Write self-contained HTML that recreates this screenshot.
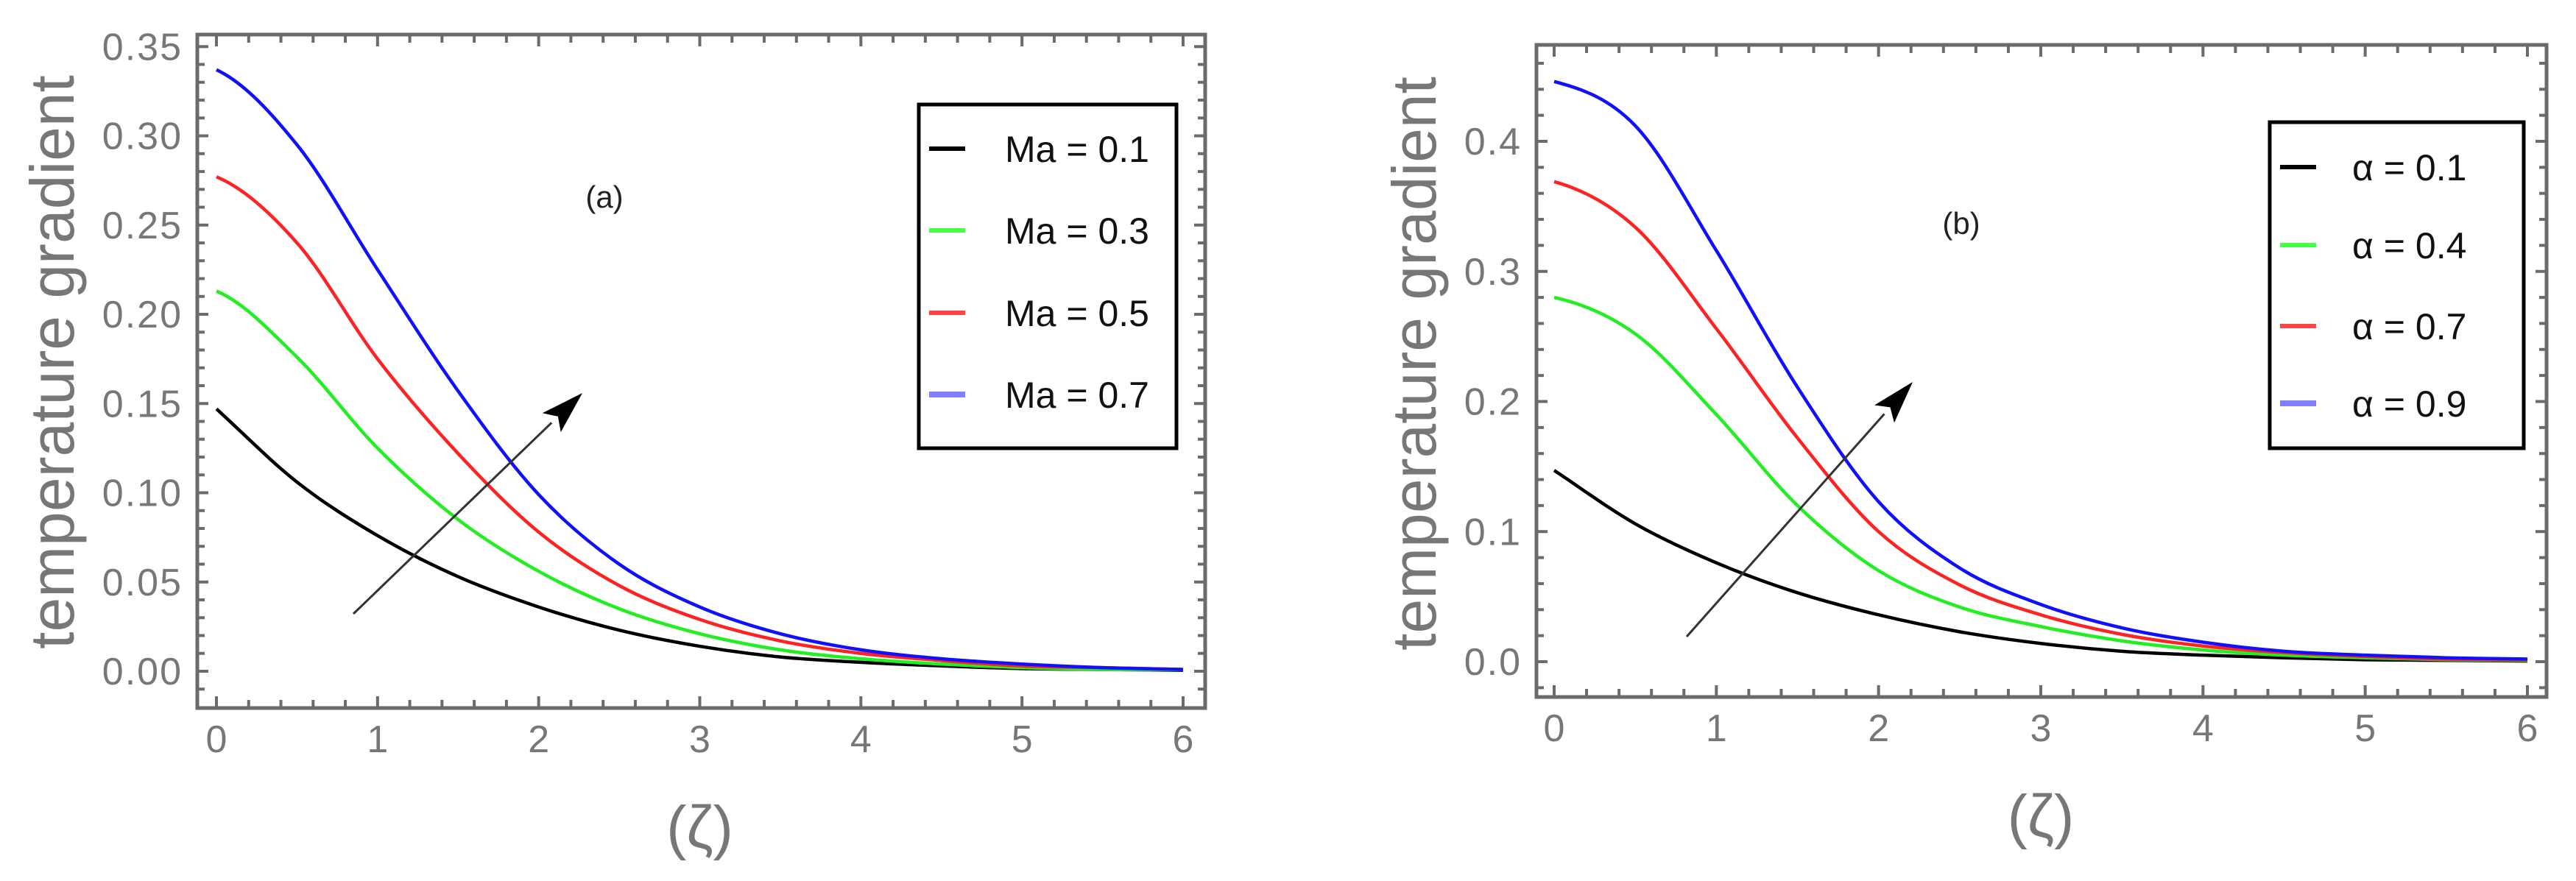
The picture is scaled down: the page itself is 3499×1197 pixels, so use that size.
<!DOCTYPE html>
<html><head><meta charset="utf-8"><style>
body{margin:0;background:#fff;}
svg{display:block;}
text{font-family:"Liberation Sans",sans-serif;}
</style></head><body>
<svg id="fig" width="3499" height="1197" viewBox="0 0 3499 1197" xmlns="http://www.w3.org/2000/svg"></svg>
<script>
// shared x samples
const xs = [0,0.5,1,1.5,2,2.5,3,3.5,4,4.5,5,5.5,6];
// panel (a): Ma
const maLabels = ["Ma = 0.1","Ma = 0.3","Ma = 0.5","Ma = 0.7"];
const maBlack = [0.147,0.106,0.076,0.053,0.036,0.023,0.014,0.008,0.005,0.003,0.0015,0.001,0.0005];
const maGreen = [0.213,0.176,0.125,0.085,0.056,0.035,0.021,0.012,0.007,0.004,0.002,0.001,0.0008];
const maRed   = [0.277,0.240,0.175,0.122,0.078,0.048,0.029,0.017,0.010,0.006,0.003,0.002,0.001];
const maBlue  = [0.337,0.295,0.225,0.157,0.099,0.060,0.036,0.021,0.012,0.007,0.004,0.002,0.001];
const aTicksY = [0,0.05,0.10,0.15,0.20,0.25,0.30,0.35];
const aTickLabelsY = ["0.00","0.05","0.10","0.15","0.20","0.25","0.30","0.35"];
// panel (b): alpha
const alLabels = ["α = 0.1","α = 0.4","α = 0.7","α = 0.9"];
const alBlack = [0.147,0.106,0.076,0.053,0.036,0.023,0.014,0.008,0.005,0.003,0.0015,0.001,0.0005];
const alGreen = [0.280,0.252,0.190,0.120,0.070,0.042,0.027,0.016,0.009,0.005,0.003,0.0015,0.001];
const alRed   = [0.369,0.334,0.256,0.172,0.100,0.059,0.036,0.021,0.012,0.007,0.004,0.002,0.0015];
const alBlue  = [0.446,0.412,0.316,0.211,0.123,0.072,0.044,0.026,0.015,0.008,0.005,0.003,0.002];
const bTicksY = [0,0.1,0.2,0.3,0.4];
const bTickLabelsY = ["0.0","0.1","0.2","0.3","0.4"];
const xTicks = [0,1,2,3,4,5,6];
const xTickLabels = ["0","1","2","3","4","5","6"];
const colors = ["#000000","#22ee22","#ff2222","#1010ff"];
const legColors = ["#000000","#44ff44","#ff4444","#8080ff"];

const NS="http://www.w3.org/2000/svg";
const svg=document.getElementById('fig');
function mk(tag,attrs,parent){const e=document.createElementNS(NS,tag);for(const k in attrs)e.setAttribute(k,attrs[k]);(parent||svg).appendChild(e);return e;}

function panel(cfg){
  const g=mk('g',{});
  
  
  const sx=v=>cfg.x0+(cfg.x6-cfg.x0)*v/6;
  const sy=v=>cfg.y0-(cfg.y0-cfg.yTop)*v/cfg.yTopVal;
  const gray="#6b6b6b";
  const fr=mk('rect',{x:cfg.fl,y:cfg.ft,width:cfg.fr-cfg.fl,height:cfg.fb-cfg.ft,fill:'none',stroke:gray,'stroke-width':5},g);
  
  
  for(let i=0;i<=30;i++){const v=i*0.2;const X=sx(v);const major=(i%5===0);const L=major?16:11;
    mk('line',{x1:X,x2:X,y1:cfg.fb,y2:cfg.fb-L,stroke:gray,'stroke-width':4},g);
    mk('line',{x1:X,x2:X,y1:cfg.ft,y2:cfg.ft+L,stroke:gray,'stroke-width':4},g);}
  const minorStep=cfg.yMinor;
  const nMinor=Math.round((cfg.yMaxTick)/minorStep);
  for(let i=-Math.round(cfg.yBelow/minorStep);i<=nMinor;i++){const v=i*minorStep;const Y=sy(v);
    if(Y<cfg.ft+4||Y>cfg.fb-4)continue;
    const major=(i%cfg.majorEvery===0);const L=major?15:10;
    mk('line',{x1:cfg.fl,x2:cfg.fl+L,y1:Y,y2:Y,stroke:gray,'stroke-width':4},g);
    mk('line',{x1:cfg.fr,x2:cfg.fr-L,y1:Y,y2:Y,stroke:gray,'stroke-width':4},g);}
  cfg.ticksY.forEach((v,i)=>{const t=mk('text',{x:cfg.fl-20,y:sy(v)+18,'text-anchor':'end','font-size':52,fill:'#777','letter-spacing':2},g);t.textContent=cfg.tickLabelsY[i];
    
    });
  xTicks.forEach((v,i)=>{const t=mk('text',{x:sx(v),y:cfg.fb+60,'text-anchor':'middle','font-size':52,fill:'#777'},g);t.textContent=xTickLabels[i];
    
    });
  const yt=mk('text',{x:0,y:0,transform:`translate(${cfg.ylabX},${cfg.ylabY}) rotate(-90)`,'text-anchor':'middle','font-size':84,fill:'#777'},g);
  yt.textContent='temperature gradient';
  
  
  const xt=mk('text',{x:(sx(0)+sx(6))/2,y:cfg.fb+190,'text-anchor':'middle','font-size':82,fill:'#777','font-family':'"DejaVu Serif",serif'},g);
  xt.textContent='(ζ)';
  
  
  const pl=mk('text',{x:cfg.plX,y:cfg.plY,'text-anchor':'middle','font-size':42,fill:'#222'},g);
  pl.textContent=cfg.panelLabel;
  
  
  cfg.series.forEach((ys,si)=>{
    const pts=xs.map((x,i)=>[sx(x),sy(ys[i])]);
    let d=`M${pts[0][0]},${pts[0][1]}`;
    for(let i=0;i<pts.length-1;i++){const p0=pts[Math.max(0,i-1)],p1=pts[i],p2=pts[i+1],p3=pts[Math.min(pts.length-1,i+2)];
      let c1=[p1[0]+(p2[0]-p0[0])/6,p1[1]+(p2[1]-p0[1])/6];
      if(i===0) c1=[p1[0]+(p2[0]-p1[0])/3,p1[1]+(p2[1]-p1[1])*(si===0?1/3:1/6)];
      const c2=[p2[0]-(p3[0]-p1[0])/6,p2[1]-(p3[1]-p1[1])/6];
      d+=` C${c1[0]},${c1[1]} ${c2[0]},${c2[1]} ${p2[0]},${p2[1]}`;}
    const p=mk('path',{d:d,fill:'none',stroke:colors[si],'stroke-width':4.5},g);
    
    
  });
  const [ax1,ay1,ax2,ay2]=cfg.arrow;
  const ang=Math.atan2(ay2-ay1,ax2-ax1);
  const hl=58,hw=18;
  const bx=ax2-hl*Math.cos(ang),by=ay2-hl*Math.sin(ang);
  const ar=mk('line',{x1:ax1,y1:ay1,x2:bx,y2:by,stroke:'#333','stroke-width':3},g);
  
  
  const ah=mk('polygon',{points:`${ax2},${ay2} ${bx+hw*Math.sin(ang)},${by-hw*Math.cos(ang)} ${bx+12*Math.cos(ang)},${by+12*Math.sin(ang)} ${bx-hw*Math.sin(ang)},${by+hw*Math.cos(ang)}`,fill:'#000'},g);
  
  
  const L=cfg.legend;
  const lb=mk('rect',{x:L.l,y:L.t,width:L.r-L.l,height:L.b-L.t,fill:'#fff',stroke:'#000','stroke-width':5},g);
  
  
  cfg.labels.forEach((lab,i)=>{const Y=L.rows[i];
    const ln=mk('line',{x1:L.l+14,x2:L.l+63,y1:Y,y2:Y,stroke:legColors[i],'stroke-width':i===3?8:6},g);
    
    
    const t=mk('text',{x:L.tx,y:Y+18,'font-size':50,fill:'#111'},g);
    t.textContent=lab;
    
    
  });
}

panel({name:'panel-a',x0:294,x6:1607,y0:912,yTop:63.3,yTopVal:0.35,fl:268,ft:47,fr:1637,fb:962,
  yMinor:0.01,majorEvery:5,yMaxTick:0.37,yBelow:0.02,ticksY:aTicksY,tickLabelsY:aTickLabelsY,
  ylabX:100,ylabY:492,plX:821,plY:282,panelLabel:'(a)',
  series:[maBlack,maGreen,maRed,maBlue],labels:maLabels,arrow:[480,834,791,534],
  legend:{l:1248,t:142,r:1598,b:609,rows:[202,313,425,536],tx:1365}});
panel({name:'panel-b',x0:2111,x6:3433,y0:899,yTop:192,yTopVal:0.4,fl:2087,ft:61,fr:3459,fb:947,
  yMinor:0.02,majorEvery:5,yMaxTick:0.48,yBelow:0.04,ticksY:bTicksY,tickLabelsY:bTickLabelsY,
  ylabX:1950,ylabY:494,plX:2664,plY:318,panelLabel:'(b)',
  series:[alBlack,alGreen,alRed,alBlue],labels:alLabels,arrow:[2291,865,2598,519],
  legend:{l:3083,t:166,r:3428,b:609,rows:[227,333,443,548],tx:3195}});
</script>
</body></html>
